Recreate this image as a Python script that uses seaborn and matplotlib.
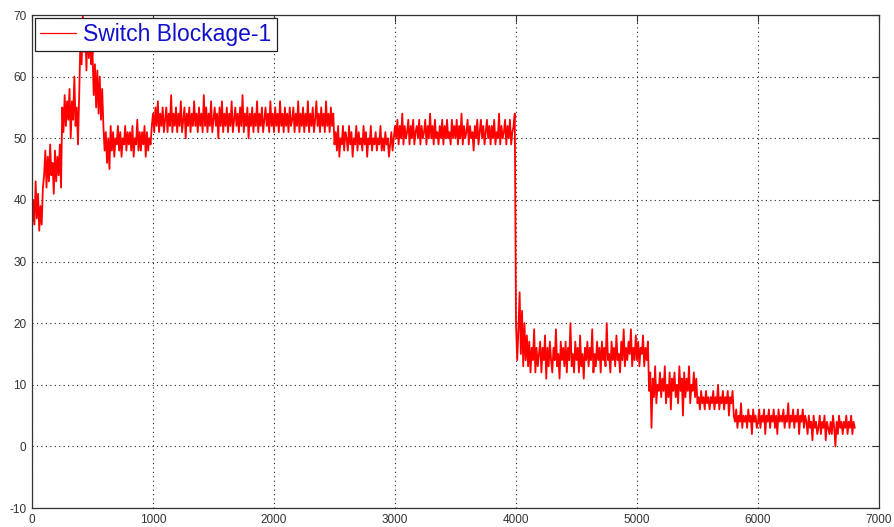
import numpy as np
import pandas as pd
import matplotlib
matplotlib.use("Agg")
import matplotlib.pyplot as plt
import seaborn as sns

# Sample spacing of the recorded signal (x units)
sample_step = 10

# Recorded signal, one row per 100 x-units
signal = [
    35, 40, 36, 43, 37, 41, 35, 39, 36, 42,
    44, 48, 42, 47, 43, 49, 44, 46, 41, 48,
    43, 47, 44, 49, 42, 55, 51, 57, 52, 56,
    53, 58, 50, 56, 53, 60, 52, 55, 49, 57,
    66, 62, 70, 64, 68, 61, 69, 63, 67, 62,
    64, 57, 62, 55, 61, 54, 60, 53, 58, 52,
    48, 51, 46, 50, 45, 52, 48, 51, 47, 50,
    49, 52, 48, 51, 47, 50, 49, 52, 48, 51,
    49, 51, 48, 52, 47, 50, 49, 53, 48, 51,
    48, 51, 49, 52, 47, 51, 48, 50, 49, 52,
    54, 51, 55, 52, 56, 51, 54, 52, 55, 51,
    53, 55, 51, 54, 52, 57, 51, 54, 52, 55,
    51, 54, 52, 56, 51, 53, 55, 50, 54, 52,
    55, 51, 54, 52, 56, 52, 54, 51, 55, 52,
    54, 51, 57, 52, 55, 51, 54, 52, 56, 51,
    53, 55, 52, 54, 50, 55, 52, 56, 51, 54,
    52, 55, 51, 54, 52, 56, 51, 53, 55, 52,
    54, 51, 55, 52, 57, 51, 54, 52, 55, 50,
    54, 52, 55, 51, 54, 52, 56, 51, 54, 52,
    55, 51, 53, 55, 52, 54, 51, 56, 52, 54,
    51, 55, 52, 54, 51, 56, 52, 54, 51, 55,
    52, 54, 51, 55, 52, 53, 55, 51, 54, 52,
    56, 51, 54, 52, 55, 51, 54, 52, 56, 51,
    54, 52, 55, 51, 53, 56, 52, 54, 51, 55,
    52, 54, 51, 56, 52, 54, 51, 55, 52, 54,
    49, 51, 48, 52, 47, 50, 49, 52, 48, 51,
    50, 48, 52, 49, 51, 47, 50, 49, 52, 48,
    51, 49, 50, 48, 52, 49, 51, 47, 50, 49,
    52, 48, 50, 49, 51, 48, 50, 49, 52, 48,
    50, 48, 51, 49, 50, 47, 49, 51, 48, 50,
    52, 50, 53, 49, 52, 50, 54, 49, 52, 50,
    51, 53, 49, 52, 50, 53, 49, 51, 52, 50,
    53, 49, 52, 50, 51, 53, 49, 52, 50, 54,
    50, 52, 49, 53, 50, 51, 49, 52, 50, 53,
    49, 52, 50, 53, 50, 51, 49, 53, 50, 52,
    50, 53, 49, 52, 50, 54, 49, 52, 50, 51,
    53, 49, 52, 50, 51, 48, 52, 50, 53, 49,
    51, 53, 50, 52, 49, 51, 53, 50, 52, 49,
    52, 50, 53, 49, 51, 50, 54, 49, 52, 50,
    51, 53, 49, 52, 50, 53, 49, 51, 52, 54,
    20, 14, 19, 25, 15, 22, 13, 20, 14, 18,
    13, 17, 12, 16, 14, 19, 12, 16, 13, 15,
    17, 12, 16, 14, 18, 11, 16, 13, 17, 14,
    12, 16, 14, 19, 13, 15, 11, 17, 14, 16,
    13, 17, 12, 16, 14, 20, 13, 15, 12, 17,
    14, 16, 12, 18, 13, 15, 11, 16, 14, 17,
    13, 16, 14, 19, 12, 15, 13, 17, 14, 16,
    12, 17, 14, 16, 13, 20, 14, 15, 12, 17,
    14, 16, 13, 18, 14, 15, 12, 17, 14, 19,
    13, 16, 14, 17, 15, 19, 13, 16, 14, 18,
    14, 17, 13, 16, 15, 18, 13, 16, 14, 17,
    9, 12, 3, 11, 8, 13, 7, 10, 9, 12,
    8, 11, 9, 13, 7, 10, 8, 12, 6, 11,
    9, 12, 8, 10, 7, 13, 9, 11, 5, 12,
    8, 11, 9, 13, 7, 10, 9, 12, 8, 11,
    7, 8, 6, 9, 7, 8, 6, 9, 7, 8,
    6, 8, 7, 9, 6, 8, 7, 10, 6, 8,
    7, 9, 6, 8, 7, 9, 5, 8, 7, 9,
    5, 4, 6, 3, 5, 4, 7, 3, 5, 4,
    5, 3, 6, 4, 5, 2, 6, 4, 5, 3,
    4, 6, 3, 5, 4, 6, 2, 5, 4, 6,
    3, 5, 4, 6, 3, 5, 2, 6, 4, 5,
    4, 6, 3, 5, 4, 7, 3, 5, 4, 6,
    3, 5, 4, 6, 2, 5, 4, 6, 3, 5,
    4, 2, 5, 3, 4, 1, 5, 3, 4, 2,
    3, 5, 2, 4, 3, 5, 1, 4, 3, 2,
    4, 2, 5, 3, 0, 4, 2, 5, 3, 4,
    2, 4, 3, 5, 2, 4, 3, 5, 2, 4,
    3,
]

series_label = "Switch Blockage-1"
x_ticks = [0, 1000, 2000, 3000, 4000, 5000, 6000, 7000]
y_ticks = [-10, 0, 10, 20, 30, 40, 50, 60, 70]

df = pd.DataFrame({
    "sample": np.arange(len(signal)) * sample_step,
    "value": signal,
})

sns.set_style("white")
plt.rcParams["font.family"] = ["Liberation Sans", "DejaVu Sans"]
plt.rcParams["axes.unicode_minus"] = False

fig = plt.figure(figsize=(8.94, 5.27), dpi=100)
ax = fig.add_axes([0.0358, 0.036, 0.9474, 0.9355])

sns.lineplot(data=df, x="sample", y="value", ax=ax, color="#ff0000",
             linewidth=1.3, label=series_label, estimator=None)

ax.set_xlim(0, 7000)
ax.set_ylim(-10, 70)
ax.set_xticks(x_ticks)
ax.set_yticks(y_ticks)
ax.set_xlabel("")
ax.set_ylabel("")

ax.grid(True, color="#222222", linestyle=(0, (1, 3)), linewidth=0.8)
ax.tick_params(direction="in", length=5, width=0.8, colors="#333333",
               labelsize=8.5, top=True, right=True, pad=4)
ax.tick_params(axis="both", labelcolor="#333333")
for side in ax.spines.values():
    side.set_color("#333333")
    side.set_linewidth(0.9)

leg = ax.legend(loc="upper left", fontsize=16.5, frameon=True, fancybox=False,
                edgecolor="#222222", framealpha=1, borderaxespad=0.12,
                handlelength=1.6, handletextpad=0.3, borderpad=0.22)
leg.get_frame().set_linewidth(0.9)
for handle in leg.get_lines():
    handle.set_linewidth(0.9)
for t in leg.get_texts():
    t.set_color("#1010cc")

fig.savefig("out.png", dpi=100)
